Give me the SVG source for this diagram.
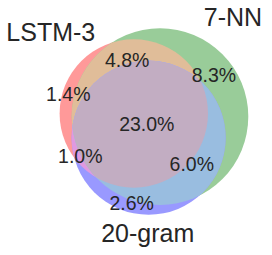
<svg xmlns="http://www.w3.org/2000/svg" width="272" height="255" viewBox="0 0 272 255">
<style>
text{font-family:"Liberation Sans",Arial,sans-serif;fill:#262626;text-anchor:middle}
.set{font-size:25px}
.pct{font-size:19.5px}
</style>
<defs>
<clipPath id="cA"><circle cx="133.8" cy="113.5" r="74.2"/></clipPath>
<clipPath id="cB"><circle cx="160" cy="116.6" r="88.3"/></clipPath>
</defs>
<rect width="272" height="255" fill="#ffffff"/>
<g id="regions">
<circle id="LSTM-3" cx="133.8" cy="113.5" r="74.2" fill="#ff9999"/>
<circle id="7-NN" cx="160" cy="116.6" r="88.3" fill="#99cc99"/>
<circle id="LSTM-3_7-NN" cx="160" cy="116.6" r="88.3" fill="#e0bd99" clip-path="url(#cA)"/>
<circle id="20-gram" cx="148.6" cy="137.8" r="77" fill="#9999ff"/>
<circle id="LSTM-3_20-gram" cx="148.6" cy="137.8" r="77" fill="#e099e0" clip-path="url(#cA)"/>
<circle id="7-NN_20-gram" cx="148.6" cy="137.8" r="77" fill="#99bde0" clip-path="url(#cB)"/>
<g clip-path="url(#cB)"><circle id="all" cx="148.6" cy="137.8" r="77" fill="#c2adc2" clip-path="url(#cA)"/></g>
</g>
<g id="labels">
<text class="set" x="50.8" y="40.7">LSTM-3</text>
<text class="set" x="233" y="26">7-NN</text>
<text class="set" x="147.7" y="242.3">20-gram</text>
<text class="pct" x="127.2" y="66.7">4.8%</text>
<text class="pct" x="68.3" y="101">1.4%</text>
<text class="pct" x="214" y="81.7">8.3%</text>
<text class="pct" x="146.8" y="130.7">23.0%</text>
<text class="pct" x="80.3" y="163">1.0%</text>
<text class="pct" x="191.8" y="171.3">6.0%</text>
<text class="pct" x="131.7" y="209.7">2.6%</text>
</g>
</svg>
